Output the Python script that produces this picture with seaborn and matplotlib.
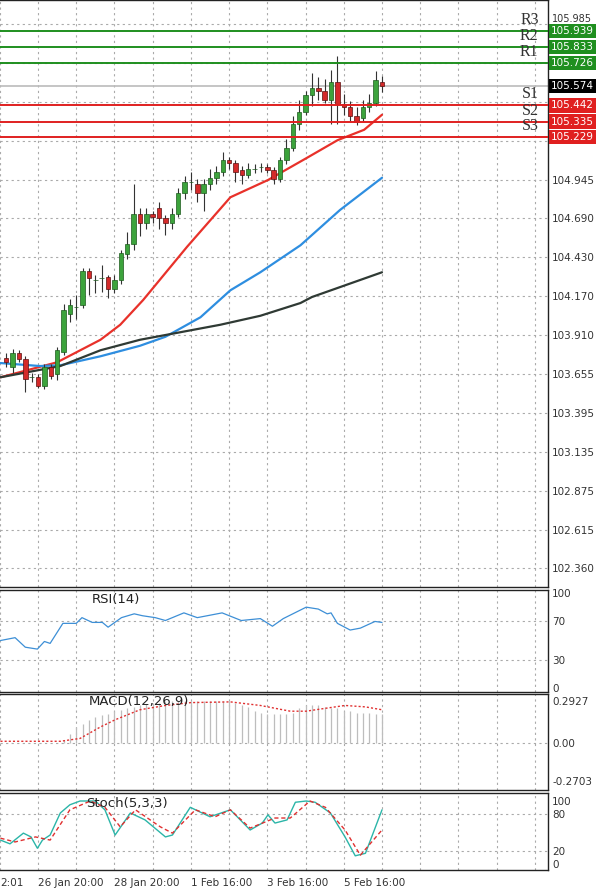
import numpy as np
import pandas as pd
import matplotlib
matplotlib.use("Agg")
import matplotlib.pyplot as plt
import seaborn as sns

sns.set_theme(style="white")

# ---------------- data ----------------
opens = [103.76,103.70,103.79,103.75,103.63,103.63,103.57,103.70,103.65,103.80,
         104.05,104.10,104.11,104.34,104.28,104.29,104.30,104.22,104.28,104.45,
         104.52,104.72,104.66,104.72,104.76,104.69,104.66,104.72,104.86,104.93,
         104.92,104.86,104.92,104.96,105.00,105.08,105.06,105.01,104.98,105.02,
         105.03,105.03,105.01,104.95,105.08,105.16,105.32,105.40,105.51,105.56,
         105.54,105.48,105.60,105.45,105.43,105.37,105.36,105.43,105.46,105.60]
closes = [103.73,103.79,103.75,103.62,103.63,103.57,103.70,103.64,103.81,104.08,
          104.11,104.10,104.34,104.29,104.28,104.29,104.22,104.28,104.46,104.52,
          104.72,104.66,104.72,104.70,104.69,104.66,104.72,104.86,104.93,104.93,
          104.86,104.92,104.96,105.00,105.08,105.06,105.00,104.98,105.02,105.02,
          105.03,105.01,104.95,105.08,105.16,105.32,105.40,105.51,105.56,105.54,
          105.48,105.60,105.45,105.43,105.37,105.33,105.43,105.46,105.61,105.574]
highs = [103.79,103.82,103.81,103.77,103.66,103.65,103.72,103.72,103.83,104.12,
         104.15,104.18,104.36,104.36,104.31,104.38,104.31,104.31,104.48,104.60,
         104.92,104.76,104.76,104.74,104.80,104.71,104.76,104.89,104.97,105.00,
         104.95,104.95,105.02,105.04,105.13,105.10,105.08,105.04,105.06,105.05,
         105.06,105.05,105.03,105.10,105.22,105.37,105.48,105.54,105.66,105.63,
         105.62,105.68,105.77,105.52,105.47,105.43,105.48,105.52,105.67,105.64]
lows = [103.70,103.66,103.73,103.53,103.60,103.56,103.55,103.62,103.61,103.78,
        104.00,104.02,104.09,104.18,104.19,104.20,104.16,104.19,104.25,104.42,
        104.48,104.57,104.62,104.66,104.62,104.58,104.62,104.70,104.82,104.88,
        104.80,104.74,104.88,104.92,104.97,105.02,104.93,104.92,104.96,104.99,
        105.00,104.99,104.92,104.93,105.05,105.14,105.28,105.38,105.44,105.48,
        105.46,105.32,105.32,105.38,105.34,105.31,105.34,105.40,105.44,105.53]

ma_red_x = [-0.9,8.0,14.8,17.9,21.5,28.4,35.2,41.1,47.1,52.0,56.2,59.0]
ma_red_y = [103.63,103.73,103.88,103.98,104.145,104.50,104.83,104.945,105.09,105.21,105.28,105.38]
ma_blue_x = [-0.9,5.3,8.5,14.8,21.0,25.0,30.5,35.2,39.9,46.2,52.4,59.0]
ma_blue_y = [103.725,103.705,103.71,103.77,103.84,103.90,104.03,104.21,104.33,104.51,104.745,104.96]
ma_dark_x = [-0.9,8.5,14.8,21.0,27.3,33.6,39.9,46.2,48.0,59.0]
ma_dark_y = [103.63,103.705,103.81,103.88,103.93,103.98,104.04,104.125,104.165,104.33]

levels_name = ["R3","R2","R1","S1","S2","S3"]
levels_val = [105.939,105.833,105.726,105.442,105.335,105.229]
last_price = 105.574
price_ticks = [105.985,105.725,105.465,105.205,104.945,104.690,104.430,104.170,103.910,
               103.655,103.395,103.135,102.875,102.615,102.360]
price_tick_labels = ["105.985","","","","104.945","104.690","104.430","104.170","103.910",
                     "103.655","103.395","103.135","102.875","102.615","102.360"]

rsi_x = [-0.9,1.4,3.0,4.9,6.0,6.9,8.9,11.0,11.9,13.5,15.1,16.0,18.1,20.1,21.4,23.4,25.0,
         27.9,30.0,33.9,36.9,39.9,41.8,43.5,47.1,49.0,50.4,51.0,52.0,54.0,55.6,57.9,59.0]
rsi_y = [50,53,43,41,49,47,68,68,74,69,69,64,74,78,76,74,71,79,74,79,71,73,65,73,85,83,78,79,68,61,63,70,69]

macd_hist_x = list(range(0, 60))
macd_hist_y = [0,0,0,0,0,0,0,0,0,0.02,0.06,0.11,0.13,0.16,0.18,0.19,0.20,0.22,0.23,0.24,
               0.25,0.26,0.27,0.28,0.28,0.29,0.29,0.29,0.29,0.29,0.29,0.29,0.29,0.29,0.29,0.29,
               0.28,0.26,0.25,0.22,0.21,0.20,0.20,0.20,0.20,0.21,0.24,0.26,0.26,0.26,
               0.25,0.24,0.24,0.22,0.22,0.21,0.21,0.21,0.20,0.20]
macd_sig_x = [-0.9,8.5,11.6,14.8,17.1,21.0,25.0,29.0,35.2,39.9,44.6,47.1,50.1,53.2,56.4,59.0]
macd_sig_y = [0.01,0.01,0.03,0.11,0.16,0.23,0.26,0.28,0.285,0.26,0.22,0.22,0.24,0.26,0.25,0.23]

sto_main_x = [-0.9,0.6,2.7,3.9,4.9,5.7,6.9,8.5,10.0,11.6,14.0,15.5,17.1,19.5,21.8,25.0,26.1,
              28.9,32.0,35.2,38.3,40.2,41.1,42.2,44.1,45.4,47.1,48.5,50.9,53.2,54.8,56.4,59.0]
sto_main_y = [38,32,49,43,25,38,46,81,94,100,100,86,46,81,70,43,46,90,75,86,54,65,78,65,70,98,100,98,81,43,13,17,86]
sto_sig_x = [-0.9,1.4,4.6,6.9,10.0,13.2,15.5,17.9,20.3,24.2,26.1,29.7,32.8,35.2,38.3,42.2,44.6,
             47.7,50.1,53.2,55.6,59.0]
sto_sig_y = [41,35,43,38,86,100,90,59,86,59,49,86,75,86,57,73,73,100,90,54,14,54]

time_labels = ["26 Jan 20:00","28 Jan 20:00","1 Feb 16:00","3 Feb 16:00","5 Feb 16:00"]
time_label_idx = [5,17,29,41,53]

# ---------------- figure ----------------
W, H = 600, 892
fig = plt.figure(figsize=(W/100, H/100), dpi=100)
fig.patch.set_facecolor("white")
def axbox(top, bottom):
    return [0, 1-bottom/H, 548/W, (bottom-top)/H]
ax = fig.add_axes(axbox(0, 587))
ax_rsi = fig.add_axes(axbox(590, 692))
ax_macd = fig.add_axes(axbox(694, 790))
ax_sto = fig.add_axes(axbox(793, 870))
axes = [ax, ax_rsi, ax_macd, ax_sto]

xlim = (-0.97, 85.06)
grid_x = np.arange(-1, 86, 6)
for a in axes:
    a.set_xlim(*xlim)
    a.set_facecolor("white")
    for s in a.spines.values():
        s.set_color("#222222"); s.set_linewidth(1.0)
    a.spines["left"].set_visible(False)
    a.yaxis.tick_right()
    a.tick_params(axis="y", labelsize=7.5, colors="#333333", length=0, pad=3)
    a.tick_params(axis="x", length=0)
    a.set_xticks([])
    for gx in grid_x:
        a.axvline(gx, color="#aaaaaa", ls=(0, (2, 3)), lw=0.8, zorder=0)

# ---- price panel ----
ax.set_ylim(102.232, 106.145)
ax.set_yticks(price_ticks)
ax.set_yticklabels(price_tick_labels)
ax.get_yticklabels()[0].set_fontsize(7)
ax.get_yticklabels()[0].set_va("bottom")
for t in price_ticks:
    ax.axhline(t, color="#aaaaaa", ls=(0, (2, 3)), lw=0.8, zorder=0)

x = np.arange(len(opens))
o = np.array(opens); c = np.array(closes)
up = c >= o
ax.vlines(x, lows, highs, color="#333333", lw=0.8, zorder=3)
ax.bar(x[up], (c-o)[up], bottom=o[up], width=0.7, color="#3ca33c", edgecolor="#1d5a1d", lw=0.5, zorder=4)
ax.bar(x[~up], (o-c)[~up], bottom=c[~up], width=0.7, color="#d42a2a", edgecolor="#5a1010", lw=0.5, zorder=4)

sns.lineplot(x=ma_red_x, y=ma_red_y, ax=ax, color="#e8312a", lw=1.6, zorder=2)
sns.lineplot(x=ma_blue_x, y=ma_blue_y, ax=ax, color="#2e8ee0", lw=1.6, zorder=2)
sns.lineplot(x=ma_dark_x, y=ma_dark_y, ax=ax, color="#2f3a34", lw=1.6, zorder=2)

ax.axhline(last_price, color="#bbbbbb", lw=1.2, zorder=1)
for name, val in zip(levels_name, levels_val):
    col = "#1f8f1f" if name.startswith("R") else "#e02020"
    ax.axhline(val, color=col, lw=1.4, zorder=5)
    ax.text(83.6, val + 0.02, name, ha="right", va="bottom", fontsize=11.5,
            family="Liberation Serif", color="#333333", zorder=6)
    ax.text(1.005, val, f"{val:.3f}", transform=ax.get_yaxis_transform(), ha="left", va="center",
            fontsize=7.5, color="white", clip_on=False, zorder=7,
            bbox=dict(boxstyle="square,pad=0.2", fc=col, ec="none"))
ax.text(1.005, last_price, f"{last_price:.3f}", transform=ax.get_yaxis_transform(), ha="left",
        va="center", fontsize=7.5, color="white", clip_on=False,
        bbox=dict(boxstyle="square,pad=0.2", fc="black", ec="none"))
ax.set_xlabel(""); ax.set_ylabel("")

# ---- RSI ----
ax_rsi.set_ylim(-4, 103)
ax_rsi.set_yticks([0, 30, 70, 100])
for t in [30, 70]:
    ax_rsi.axhline(t, color="#aaaaaa", ls=(0, (2, 3)), lw=0.8, zorder=0)
sns.lineplot(x=rsi_x, y=rsi_y, ax=ax_rsi, color="#3d8fd6", lw=0.9)
ax_rsi.text(13.5, 100, "RSI(14)", fontsize=9.5, va="top", color="#222222")

# ---- MACD ----
ax_macd.set_ylim(-0.33, 0.34)
ax_macd.set_yticks([-0.2703, 0.0, 0.2927])
ax_macd.set_yticklabels(["-0.2703", "0.00", "0.2927"])
ax_macd.axhline(0, color="#aaaaaa", ls=(0, (2, 3)), lw=0.8, zorder=0)
ax_macd.vlines(macd_hist_x, 0, macd_hist_y, color="#bdbdbd", lw=0.9, zorder=1)
sns.lineplot(x=macd_sig_x, y=macd_sig_y, ax=ax_macd, color="#e03030", lw=1.0, ls=(0, (1.5, 1.5)), zorder=2)
ax_macd.text(13.0, 0.33, "MACD(12,26,9)", fontsize=9.5, va="top", color="#222222")

# ---- Stoch ----
ax_sto.set_ylim(-9.5, 112.7)
ax_sto.set_yticks([0, 20, 80, 100])
for t in [20, 80]:
    ax_sto.axhline(t, color="#aaaaaa", ls=(0, (2, 3)), lw=0.8, zorder=0)
sns.lineplot(x=sto_main_x, y=sto_main_y, ax=ax_sto, color="#2bb5a8", lw=1.0)
sns.lineplot(x=sto_sig_x, y=sto_sig_y, ax=ax_sto, color="#e03030", lw=1.0, ls=(0, (3, 2)))
ax_sto.text(12.5, 107, "Stoch(5,3,3)", fontsize=9.5, va="top", color="#222222")

for a in axes:
    a.set_xlabel(""); a.set_ylabel("")
    if a.get_legend(): a.get_legend().remove()

for lbl, idx in zip(time_labels, time_label_idx):
    ax_sto.text(idx, -0.1, lbl, transform=ax_sto.get_xaxis_transform(), ha="left", va="top",
                fontsize=7.5, color="#333333")
ax_sto.text(0.0, -0.1, "2:01", transform=ax_sto.transAxes, ha="left", va="top", fontsize=7.5, color="#333333")

fig.savefig("out.png", dpi=100, facecolor="white")
